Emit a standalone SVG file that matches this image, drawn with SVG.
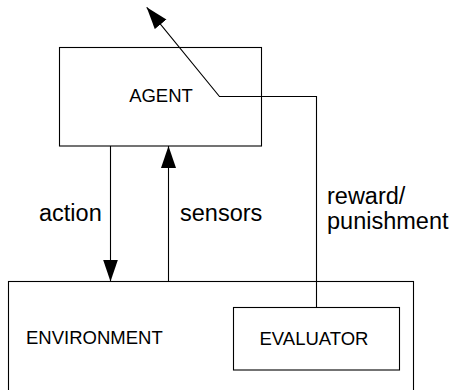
<svg xmlns="http://www.w3.org/2000/svg" width="456" height="390" viewBox="0 0 456 390">
  <style>
    .box { fill: #ffffff; stroke: #000000; stroke-width: 1.1; }
    .wire { fill: none; stroke: #000000; stroke-width: 1.1; }
    .caps { font-family: "Liberation Sans", Arial, sans-serif; font-size: 18.5px; fill: #000000; }
    .label { font-family: "Liberation Sans", Arial, sans-serif; font-size: 23.5px; fill: #000000; }
  </style>
  <defs>
    <marker id="head" markerUnits="userSpaceOnUse" markerWidth="23" markerHeight="16" refX="22" refY="7.5" orient="auto">
      <path d="M0,0 L22,7.5 L0,15 z" fill="#000000"/>
    </marker>
  </defs>
  <rect width="456" height="390" fill="#ffffff"/>

  <g id="environment">
    <rect class="box" x="8.5" y="281.5" width="405" height="130"/>
    <text class="caps" x="26" y="344">ENVIRONMENT</text>
  </g>

  <g id="evaluator">
    <rect class="box" x="233.5" y="307.5" width="166" height="62.5"/>
    <text class="caps" x="314" y="345" text-anchor="middle">EVALUATOR</text>
  </g>

  <g id="agent">
    <rect class="box" x="59.5" y="47.5" width="202" height="98.5"/>
    <text class="caps" x="161" y="102" text-anchor="middle">AGENT</text>
  </g>

  <g id="connectors">
    <path class="wire" d="M110.5,146 V281.5" marker-end="url(#head)"/>
    <path class="wire" d="M168.5,281.5 V146" marker-end="url(#head)"/>
    <path class="wire" d="M316.5,307.5 V96.5 H219.5 L146.7,7.3" marker-end="url(#head)"/>
  </g>

  <g id="labels">
    <text class="label" x="39" y="221">action</text>
    <text class="label" x="180" y="221">sensors</text>
    <text class="label" x="327" y="204">reward/</text>
    <text class="label" x="327" y="229">punishment</text>
  </g>
</svg>
